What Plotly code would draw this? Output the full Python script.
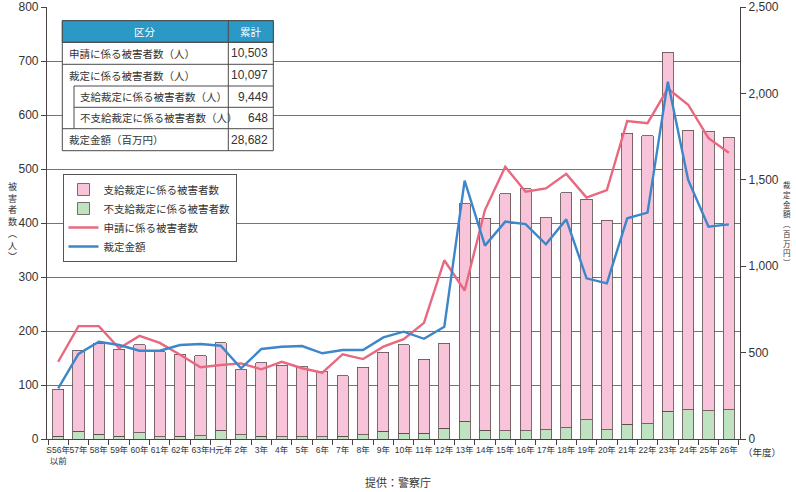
import plotly.graph_objects as go

# ---------------- data ----------------
years = ["S56年<br>以前", "57年", "58年", "59年", "60年", "61年", "62年", "63年", "H元年",
         "2年", "3年", "4年", "5年", "6年", "7年", "8年", "9年", "10年", "11年", "12年",
         "13年", "14年", "15年", "16年", "17年", "18年", "19年", "20年", "21年", "22年",
         "23年", "24年", "25年", "26年"]

# 支給裁定に係る被害者数
paid = [87, 150, 168, 161, 163, 158, 152, 148, 162, 120, 136, 133, 130, 121, 112, 125, 147, 164,
        137, 157, 403, 393, 439, 448, 393, 435, 408, 388, 539, 534, 665, 518, 518, 505]
# 不支給裁定に係る被害者数
unpaid = [5, 14, 9, 5, 12, 4, 5, 6, 16, 8, 5, 4, 4, 4, 5, 8, 14, 11,
          11, 20, 33, 16, 15, 15, 17, 21, 36, 17, 27, 28, 51, 54, 52, 54]
# 申請に係る被害者数
applied = [143, 209, 209, 168, 191, 178, 156, 133, 137, 140, 129, 143, 131, 123, 157, 148, 171, 185,
           215, 331, 275, 424, 504, 458, 464, 491, 447, 461, 589, 585, 649, 619, 557, 530]
# 裁定金額（百万円）
amount = [293, 492, 563, 544, 511, 511, 544, 550, 540, 409, 521, 534, 538, 496, 515, 515, 588, 621,
          580, 650, 1495, 1119, 1258, 1244, 1127, 1271, 930, 901, 1277, 1310, 2068, 1499, 1229, 1242]

left_ticks = [0, 100, 200, 300, 400, 500, 600, 700, 800]
right_ticks = [0, 500, 1000, 1500, 2000, 2500]

table_labels = ["申請に係る被害者数（人）", "裁定に係る被害者数（人）", "支給裁定に係る被害者数（人）",
                "不支給裁定に係る被害者数（人）", "裁定金額（百万円）"]
table_values = ["10,503", "10,097", "9,449", "648", "28,682"]
table_indent = [False, False, True, True, False]

# ---------------- layout helpers ----------------
W, H = 796, 492
ML, MR, MT, MB = 47, 56, 7, 53
PW, PH = W - ML - MR, H - MT - MB


def px(x):
    return (x - ML) / PW


def py(y):
    return (H - MB - y) / PH


JP = "Noto Sans CJK JP"
NUM = "Liberation Sans, Noto Sans CJK JP"
NARROW = "Liberation Sans Narrow, Liberation Sans, Noto Sans CJK JP"
TXT = "#333333"
GRID = "#7a7272"
AXIS = "#4a4242"
EDGE = "#5a4a4a"

fig = go.Figure()

fig.add_trace(go.Bar(x=years, y=unpaid, name="不支給裁定に係る被害者数",
                     marker=dict(color="#bfe3c0", line=dict(color=EDGE, width=0.8)),
                     width=0.55, legendrank=2))
fig.add_trace(go.Bar(x=years, y=paid, name="支給裁定に係る被害者数",
                     marker=dict(color="#f8c4d9", line=dict(color=EDGE, width=0.8)),
                     width=0.55, legendrank=1))
fig.add_trace(go.Scatter(x=years, y=applied, name="申請に係る被害者数", mode="lines",
                         line=dict(color="#e8687f", width=2.4), legendrank=3))
fig.add_trace(go.Scatter(x=years, y=amount, name="裁定金額", mode="lines", yaxis="y2",
                         line=dict(color="#3c86c9", width=2.4), legendrank=4))

shapes = []
annotations = []

# ---- table ----
tx0, txi, tx1, tx2 = 62.3, 74, 228.3, 273.3
rows = [20.7, 42.3, 64.3, 86, 107.3, 128.7, 150.7]
LC = "#4a4a4a"


def line(x0, y0, x1, y1, w=1):
    shapes.append(dict(type="line", xref="paper", yref="paper",
                       x0=px(x0), y0=py(y0), x1=px(x1), y1=py(y1),
                       line=dict(color=LC, width=w), layer="above"))


def text(x, y, s, size, color=TXT, family=JP, xanchor="center"):
    annotations.append(dict(x=px(x), y=py(y), xref="paper", yref="paper",
                            xanchor=xanchor, yanchor="middle", text=s, showarrow=False,
                            font=dict(family=family, size=size, color=color)))


shapes.append(dict(type="rect", xref="paper", yref="paper", x0=px(tx0), x1=px(tx2),
                   y0=py(rows[0]), y1=py(rows[-1]), fillcolor="white",
                   line=dict(color=LC, width=1), layer="above"))
shapes.append(dict(type="rect", xref="paper", yref="paper", x0=px(tx0), x1=px(tx2),
                   y0=py(rows[0]), y1=py(rows[1]), fillcolor="#2b98c6",
                   line=dict(color=LC, width=1), layer="above"))
line(tx1, rows[0], tx1, rows[-1])
line(tx0, rows[1], tx2, rows[1])
line(tx0, rows[2], tx2, rows[2])
line(txi, rows[3], tx2, rows[3])
line(txi, rows[4], tx2, rows[4])
line(tx0, rows[5], tx2, rows[5])
line(txi, rows[3], txi, rows[5])

text((tx0 + tx1) / 2, (rows[0] + rows[1]) / 2, "区分", 10.5, color="white")
text((tx1 + tx2) / 2, (rows[0] + rows[1]) / 2, "累計", 10.5, color="white")
for i, (lab, val, ind) in enumerate(zip(table_labels, table_values, table_indent)):
    yc = (rows[i + 1] + rows[i + 2]) / 2
    text(78 if ind else 66.5, yc, lab, 10.5, xanchor="left")
    text(269.5, yc, val, 12, family=NUM, xanchor="right")

# ---- vertical axis titles ----
left_title = ["被", "害", "者", "数", "︵", "人", "︶"]
annotations.append(dict(x=px(12), y=py(178), xref="paper", yref="paper", xanchor="center", yanchor="top",
                        text="<br>".join(left_title), showarrow=False,
                        font=dict(family=JP, size=9, color=TXT)))
right_title = ["裁", "定", "金", "額", "︵", "百", "万", "円", "︶"]
annotations.append(dict(x=px(787), y=py(177), xref="paper", yref="paper", xanchor="center", yanchor="top",
                        text="<br>".join(right_title), showarrow=False,
                        font=dict(family=JP, size=7.5, color=TXT)))

text(741, 452, "（年度）", 9.5, xanchor="left")
text(398, 482, "提供：警察庁", 11)

fig.update_layout(
    width=W, height=H,
    margin=dict(l=ML, r=MR, t=MT, b=MB, pad=0, autoexpand=False),
    paper_bgcolor="white", plot_bgcolor="white",
    barmode="stack", bargap=0.45,
    font=dict(family=NUM, color=TXT),
    showlegend=True,
    legend=dict(x=px(62.5), y=py(174), xanchor="left", yanchor="top",
                bgcolor="white", bordercolor="#555555", borderwidth=1,
                font=dict(family=JP, size=10.5, color=TXT),
                traceorder="normal", tracegroupgap=0, itemwidth=30),
    xaxis=dict(type="category", tickson="boundaries", ticks="outside", ticklen=5,
               tickcolor=AXIS, showline=True, linecolor=AXIS, linewidth=1.2,
               tickangle=0, automargin=False, ticklabelstandoff=3,
               tickfont=dict(family=NARROW, size=8.5, color=TXT),
               showgrid=False, range=[-0.55, len(years) - 0.45]),
    yaxis=dict(range=[0, 800], tickvals=left_ticks, ticks="outside", ticklen=5,
               tickcolor=AXIS, showline=True, linecolor=AXIS, linewidth=1.2,
               showgrid=True, gridcolor=GRID, gridwidth=1, zeroline=False, automargin=False,
               tickfont=dict(family=NUM, size=12, color=TXT)),
    yaxis2=dict(range=[0, 2500], tickvals=right_ticks, tickformat=",", overlaying="y", side="right",
                ticks="outside", ticklen=5, tickcolor=AXIS, showline=True, linecolor=AXIS,
                linewidth=1.2, showgrid=False, zeroline=False, automargin=False,
                tickfont=dict(family=NUM, size=12, color=TXT)),
    shapes=shapes,
    annotations=annotations,
)

fig.write_html("out.html")
